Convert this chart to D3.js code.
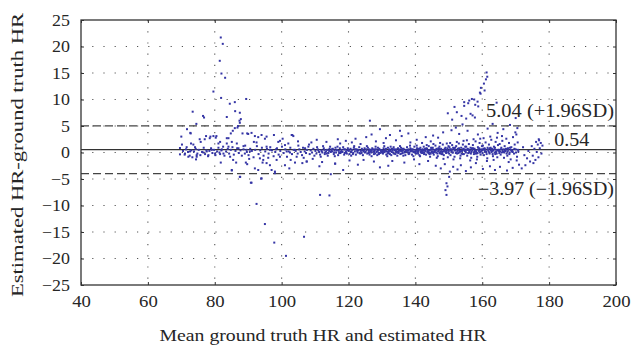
<!DOCTYPE html>
<html>
<head>
<meta charset="utf-8" />
<title>Bland-Altman HR</title>
<script src="https://cdn.jsdelivr.net/npm/d3@7"></script>
<style>
  html, body { margin: 0; background: #fff; }
  text { font-family: "Liberation Serif", serif; fill: #262626; }
  .grid line { stroke: #555; stroke-width: 1.1px; stroke-dasharray: 1.2,10; }
  .axis text { font-size: 16px; }
  .axis line { stroke: #333; stroke-width: 1px; }
  .axis path { display: none; }
</style>
</head>
<body>
<svg id="chart" width="632" height="346"></svg>
<script>
var xTicks = [40, 60, 80, 100, 120, 140, 160, 180, 200];
var yTicks = [25, 20, 15, 10, 5, 0, -5, -10, -15, -20, -25];
var meanDiff = 0.54, upperLoA = 5.04, lowerLoA = -3.97;
var upperLabel = "5.04 (+1.96SD)", meanLabel = "0.54", lowerLabel = "\u22123.97 (\u22121.96SD)";

// [mean HR, estimated - ground truth]
var upOutliers = [[81.8,21.7],[82.4,20.5],[81.5,17.3],[82.0,14.9],[83.1,14.1],[79.6,11.5],[81.9,10.3],[86.0,9.5],
  [89.4,10.1],[84.5,9.2],[73.4,7.7],[86.1,7.8],[87.5,7.5],[76.5,6.9],[76.8,6.6],[83.6,6.7],[87.8,6.3],[126.4,6.0]];

var downOutliers = [[111.5,-8.0],[114.3,-8.1],[92.5,-9.7],[95.0,-13.5],[106.7,-15.9],[97.8,-17.0],[101.3,-19.5]];

var leftBand = [[70.5,0.3],[71.0,-0.4],[71.4,0.6],[72.0,0.1],[72.5,-0.6],[73.0,0.4],[73.3,-0.9],[73.8,0.2],[74.3,0.7],
  [74.8,-0.2],[75.2,0.5],[75.7,-0.5],[76.2,0.1],[76.7,0.9],[77.1,-0.3],[77.5,0.4],[78.0,-0.7],[78.4,0.3],[78.9,0.8],
  [79.3,-0.1],[79.8,0.5],[80.2,-0.5],[80.7,0.2],[81.1,0.9],[81.6,-0.3],[82.0,0.4],[82.5,1.1],[82.9,-0.6],[83.4,0.2],
  [83.9,0.7],[84.3,-0.2],[84.8,0.5],[85.3,1.0],[85.7,-0.4],[86.2,0.3],[86.7,0.8],[87.2,-0.1],[87.7,0.4],[88.1,-0.6],
  [88.6,0.6],[89.1,1.3],[89.6,0.1],[90.1,-0.5],[90.6,0.7],[91.1,0.3],[91.6,-0.9],[92.1,0.5],[92.6,1.2],[93.1,-0.3],
  [93.6,0.4],[94.1,0.9],[94.6,-0.6],[95.1,0.2],[95.6,0.7],[96.1,-0.2],[96.6,1.0],[97.1,0.4],[97.6,-0.7],[98.1,0.1],
  [98.6,0.8],[99.1,-0.4],[99.6,0.3],[100.1,1.1],[100.6,-0.1],[101.1,0.6],[101.6,-0.8],[102.1,0.2],[102.6,0.9],
  [103.1,-0.3],[103.6,0.5]];

var leftSpread = [[70.0,3.0],[70.2,1.5],[69.6,0.85],[69.6,-0.35],[71.7,4.4],[72.7,3.7],[74.5,5.4],[71.6,1.0],[72.9,1.7],
  [73.6,1.5],[74.1,1.0],[72.6,0.2],[71.1,-0.2],[74.6,-0.8],[74.4,-1.3],[75.5,2.5],[75.8,2.0],[77.0,2.5],[78.5,2.7],
  [78.7,3.0],[79.6,3.1],[80.5,3.1],[81.6,2.0],[81.1,1.7],[76.6,0.0],[77.6,0.2],[78.1,-0.5],[79.1,0.5],[80.1,-0.2],
  [81.4,0.0],[82.1,0.6],[82.6,-0.2],[83.6,1.7],[84.1,2.7],[84.8,3.6],[85.4,4.1],[86.0,4.6],[87.0,5.0],[87.5,5.6],
  [88.3,3.6],[90.0,3.5],[91.0,3.7],[91.7,2.0],[92.0,3.1],[93.0,2.9],[94.0,3.3],[95.0,2.6],[95.5,3.0],[84.1,1.1],
  [85.1,2.0],[86.6,1.7],[87.1,0.8],[88.6,1.2],[89.5,0.5],[90.5,0.2],[89.0,-0.2],[84.6,-0.8],[85.5,-1.4],[81.8,-1.9],
  [85.1,-3.3],[87.6,-4.6],[89.3,-1.9],[89.7,-2.2],[92.0,-3.0],[93.0,-3.3],[91.0,-5.7],[94.0,-4.9],[93.5,-1.1],
  [94.5,-1.4],[95.5,-2.0],[96.5,-2.4],[97.0,-3.3],[98.0,-3.6],[98.5,-1.4],[99.5,-0.8],[101.0,1.4],[102.0,1.7],
  [103.0,3.3],[103.5,3.1],[102.3,-3.0],[99.0,2.0],[99.5,2.2],[95.5,1.1],[96.5,0.5],[98.3,0.6],[101.5,0.2],[102.5,0.0],
  [104.0,0.5],[104.5,-0.8],[72.8,3.6],[77.4,3.1],[80.3,2.8],[83.6,2.7],[86.8,4.7],[87.4,6.0],[89.7,3.6],[92.5,1.9],
  [72.1,-0.8],[74.6,-0.5],[86.4,-1.9],[94.3,-1.9],[98.0,-3.9],[101.0,-2.4],[102.7,-1.4],[104.0,-1.9],[93.9,-4.9],
  [90.8,-5.7],[85.1,-3.4],[87.5,-4.6],[97.7,3.3],[100.3,2.6],[90.3,-1.2],[96.0,-1.0]];

var midSpread = [[104.9,2.1],[106.2,-2.0],[107.5,-1.7],[108.9,1.9],[110.5,2.4],[111.3,-2.6],[112.1,-1.8],[113.4,2.0],
  [114.7,-4.1],[116.0,-2.1],[116.8,2.5],[117.5,1.7],[118.4,-3.3],[119.2,2.2],[120.3,-1.5],[121.0,1.9],[122.1,2.6],
  [122.8,-2.3],[123.6,1.6],[124.5,-1.4],[125.3,2.9],[126.9,3.4],[127.6,-1.7],[128.2,2.1],[129.4,4.4],[129.4,-2.8],
  [130.5,1.8],[131.2,2.7],[131.9,-2.5],[132.4,3.3],[133.1,-1.6],[134.2,2.3],[135.4,4.1],[135.9,3.1],[136.7,-1.9],
  [137.9,3.6],[138.5,1.9],[139.6,-1.3],[140.4,2.4],[141.2,-2.2],[142.0,1.8],[143.1,2.9],[143.8,-1.6],[144.6,2.1],
  [116.0,-2.1],[107.5,-1.7],[103.2,3.3]];

var coreBand = [
  [104.2,0.3],[104.8,-0.2],[105.3,0.6],[105.7,0.1],[106.1,-0.5],[106.4,0.9],[106.9,0.2],[107.3,-0.1],[107.6,0.5],
  [108.0,1.1],[108.4,-0.3],[108.7,0.4],[109.1,0.0],[109.5,0.7],[109.8,-0.6],[105.0,1.3],[106.6,-1.0],[108.2,1.5],
  [109.3,-1.2],[107.0,0.8],
  [110.1,0.3],[110.4,-0.2],[110.8,0.6],[111.2,0.1],[111.5,-0.4],[111.9,0.4],[112.2,0.0],[112.6,0.8],[112.9,-0.3],
  [113.3,0.2],[113.6,0.5],[114.0,-0.1],[114.3,0.7],[114.7,0.1],[110.6,1.0],[111.7,-0.8],[112.4,1.2],[113.8,-0.6],
  [114.5,1.1],[111.0,0.4],[113.0,0.0],[114.9,0.3],
  [115.1,0.2],[115.3,0.7],[115.6,-0.3],[115.8,0.4],[116.1,0.9],[116.3,0.0],[116.6,0.5],[116.9,-0.5],[117.1,0.3],
  [117.4,0.8],[117.6,-0.1],[117.9,0.5],[118.2,0.1],[118.4,1.0],[118.7,-0.4],[119.0,0.6],[119.2,0.2],[119.5,-0.2],
  [119.8,0.8],[115.9,-0.7],[116.7,1.1],[117.7,0.1],[118.9,-0.1],[119.6,0.4],
  [120.1,0.3],[120.3,-0.3],[120.6,0.7],[120.9,0.1],[121.1,0.5],[121.4,-0.1],[121.6,0.9],[121.9,0.2],[122.2,-0.4],
  [122.4,0.6],[122.7,0.0],[123.0,0.4],[123.2,1.0],[123.5,-0.2],[123.7,0.3],[124.0,0.7],[124.3,-0.5],[124.5,0.2],
  [124.8,0.8],[120.8,-0.6],[121.7,1.2],[122.9,0.5],[123.9,-0.1],[124.6,0.4],
  [125.1,0.1],[125.3,0.6],[125.6,-0.2],[125.8,0.9],[126.1,0.3],[126.3,-0.4],[126.6,0.5],[126.8,0.0],[127.1,0.8],
  [127.4,0.2],[127.6,-0.3],[127.9,0.6],[128.1,1.1],[128.4,0.1],[128.6,-0.5],[128.9,0.4],[129.2,0.7],[129.4,-0.1],
  [129.7,0.3],[125.5,1.2],[126.9,-0.7],[127.8,0.4],[128.8,0.9],[129.9,0.0],[126.2,0.6],[129.1,-0.3],
  [130.1,0.4],[130.3,-0.2],[130.5,0.8],[130.8,0.1],[131.0,0.5],[131.3,-0.4],[131.5,0.2],[131.8,0.9],[132.0,-0.1],
  [132.3,0.6],[132.5,0.3],[132.8,-0.5],[133.0,0.7],[133.3,0.0],[133.5,1.0],[133.8,0.4],[134.0,-0.3],[134.3,0.6],
  [134.5,0.2],[134.8,0.8],[130.7,1.2],[131.6,-0.7],[132.6,1.1],[133.6,-0.2],[134.6,-0.6],[130.2,0.0],[132.1,0.3],
  [134.1,0.5],
  [135.0,0.1],[135.2,0.6],[135.5,-0.3],[135.7,0.9],[136.0,0.3],[136.2,-0.1],[136.5,0.7],[136.7,0.2],[137.0,-0.5],
  [137.2,0.5],[137.5,1.0],[137.7,0.0],[138.0,0.4],[138.2,-0.2],[138.5,0.8],[138.7,0.3],[139.0,-0.4],[139.2,0.6],
  [139.5,0.1],[139.7,1.1],[135.4,1.2],[136.4,-0.6],[137.4,0.3],[138.4,1.3],[139.4,-0.7],[135.9,0.4],[137.9,0.6],
  [139.9,0.2],
  [140.0,0.5],[140.2,-0.2],[140.5,0.8],[140.7,0.1],[141.0,0.4],[141.2,-0.5],[141.5,0.9],[141.7,0.2],[142.0,-0.1],
  [142.2,0.6],[142.5,1.1],[142.7,0.0],[143.0,0.3],[143.2,-0.4],[143.5,0.7],[143.7,0.2],[144.0,1.2],[144.2,-0.3],
  [144.5,0.5],[144.7,0.9],[140.4,1.3],[141.4,-0.7],[142.4,0.4],[143.4,1.4],[144.4,-0.8],[140.9,0.2],[142.9,0.7],
  [144.9,0.1],[141.9,0.5],[143.9,-0.1],
  [145.0,0.2],[145.2,0.9],[145.5,-0.4],[145.7,0.5],[146.0,1.3],[146.2,0.0],[146.5,0.6],[146.7,-0.7],[147.0,0.3],
  [147.2,1.1],[147.5,-0.2],[147.7,0.7],[148.0,0.1],[148.2,1.5],[148.5,-0.5],[148.7,0.4],[149.0,0.9],[149.2,-0.1],
  [149.5,0.5],[149.7,-0.9],[145.4,1.6],[146.4,-1.0],[147.4,1.8],[148.4,-1.2],[149.4,1.7],[145.9,0.4],[146.9,0.8],
  [147.9,-0.3],[148.9,0.2],[149.9,1.2],
  [150.0,0.3],[150.2,1.0],[150.5,-0.5],[150.7,0.6],[151.0,1.4],[151.2,0.0],[151.5,0.8],[151.7,-0.8],[152.0,0.4],
  [152.2,1.2],[152.5,-0.2],[152.7,0.7],[153.0,1.7],[153.2,0.1],[153.5,-0.6],[153.7,0.9],[154.0,0.3],[154.2,1.5],
  [154.5,-0.3],[154.7,0.6],[150.4,1.8],[151.4,-1.3],[152.4,2.0],[153.4,-1.1],[154.4,2.2],[150.9,0.5],[151.9,0.9],
  [152.9,-0.1],[153.9,0.4],[154.9,1.1],
  [155.0,0.2],[155.2,1.1],[155.5,-0.6],[155.7,0.5],[156.0,1.6],[156.2,0.0],[156.5,0.9],[156.7,-1.0],[157.0,0.4],
  [157.2,1.4],[157.5,-0.3],[157.7,0.7],[158.0,2.1],[158.2,0.1],[158.5,-0.8],[158.7,1.0],[159.0,0.3],[159.2,1.8],
  [159.5,-0.4],[159.7,0.6],[155.4,2.3],[156.4,-1.5],[157.4,2.5],[158.4,-1.3],[159.4,2.6],[155.9,0.6],[156.9,0.8],
  [157.9,-0.2],[158.9,0.5],[159.9,1.2],
  [160.0,0.4],[160.2,1.3],[160.5,-0.5],[160.7,0.8],[161.0,1.9],[161.2,0.1],[161.5,-1.1],[161.7,0.6],[162.0,1.5],
  [162.2,-0.2],[162.5,0.9],[162.7,2.4],[163.0,0.3],[163.2,-0.7],[163.5,1.1],[163.7,0.0],[164.0,2.0],[164.2,0.5],
  [164.5,-0.9],[164.7,1.4],[160.4,2.7],[161.4,-1.6],[162.4,3.0],[163.4,-1.4],[164.4,2.8],[160.9,0.6],[161.9,0.2],
  [162.9,0.7],[163.9,-0.3],[164.9,0.3],
  [165.0,0.5],[165.2,1.6],[165.5,-0.4],[165.7,0.9],[166.0,2.2],[166.2,0.1],[166.5,-1.0],[166.7,1.2],[167.0,0.3],
  [167.2,2.6],[167.5,-0.6],[167.7,0.8],[168.0,1.8],[168.2,0.0],[168.5,-1.3],[168.7,1.0],[169.0,0.4],[169.2,2.9],
  [169.5,-0.2],[169.7,1.5],[170.0,0.6],[170.2,3.4],[170.4,-0.8],[170.6,1.9],[170.8,0.2],[165.9,3.1],[167.9,-1.8],
  [169.9,3.8],[170.3,-1.5],[166.9,0.6]];

// extra density along the tight centre of the band
var coreDense = [[112.0,0.2],[112.8,0.5],[113.5,-0.2],[114.2,0.3],[115.0,0.6],[115.7,0.0],[116.4,0.4],[117.2,-0.1],
  [117.9,0.2],[118.6,0.6],[119.3,0.0],[120.0,0.5],[120.7,0.2],[121.3,-0.3],[122.0,0.6],[122.6,0.3],[123.3,-0.1],
  [124.1,0.4],[124.9,0.0],[125.4,0.4],[126.0,-0.1],[126.7,0.2],[127.3,0.6],[128.0,-0.2],[128.7,0.3],[129.5,0.5],
  [130.0,0.1],[130.6,0.3],[131.2,0.7],[131.9,0.1],[132.4,-0.3],[133.1,0.4],[133.7,0.6],[134.4,0.0],[135.1,0.4],
  [135.8,-0.2],[136.3,0.5],[136.9,0.1],[137.6,0.4],[138.1,0.0],[138.8,0.6],[139.3,0.2],[140.1,-0.1],[140.6,0.4],
  [141.1,0.7],[141.6,0.0],[142.1,0.3],[142.6,-0.3],[143.1,0.6],[143.6,0.1],[144.1,0.4],[144.6,-0.2],[145.1,0.6],
  [145.6,0.1],[146.1,0.4],[146.6,-0.2],[147.1,0.7],[147.6,0.2],[148.1,-0.3],[148.6,0.5],[149.1,0.1],[149.6,0.8],
  [150.1,-0.2],[150.6,0.4],[151.1,0.0],[151.6,0.6],[152.1,-0.1],[152.6,0.3],[153.1,0.8],[153.6,0.2],[154.1,-0.3],
  [154.6,0.5],[155.1,0.0],[155.6,0.7],[156.1,0.3],[156.6,-0.2],[157.1,0.6],[157.6,0.1],[158.1,0.4],[158.6,-0.1],
  [159.1,0.8],[159.6,0.2],[160.1,-0.1],[160.6,0.5],[161.1,0.2],[161.6,0.9],[162.1,0.0],[162.6,0.4],[163.1,-0.3],
  [163.6,0.6],[164.1,0.1],[164.6,0.4],[165.1,-0.1],[165.6,0.6],[166.1,0.3],[166.6,0.0],[167.1,0.7],[167.6,0.2],
  [168.1,-0.3],[168.6,0.5],[169.1,0.1],[169.6,0.7],[170.1,0.0],[170.7,0.5]];

var coreDense2 = [[126.2,0.0],[126.9,0.5],[127.7,0.1],[128.3,0.6],[129.0,-0.1],[129.8,0.4],[130.4,0.0],[131.1,0.3],
  [131.7,-0.2],[132.2,0.5],[132.9,0.1],[133.4,0.6],[134.2,0.2],[134.9,-0.1],[135.6,0.3],[136.1,0.7],[136.8,0.0],
  [137.3,0.4],[138.0,-0.3],[138.6,0.2],[139.1,0.5],[139.8,0.0],[140.3,0.3],[140.8,-0.2],[141.3,0.6],[141.8,0.3],
  [142.3,0.0],[142.8,0.4],[143.3,0.8],[143.8,0.3],[144.3,0.0],[144.8,0.6],[145.3,-0.1],[145.8,0.3],[146.3,0.7],
  [146.8,0.2],[147.3,-0.1],[147.8,0.5],[148.3,0.2],[148.8,0.7],[149.3,0.3],[149.8,0.0],[150.3,0.6],[150.8,0.2],
  [151.3,0.9],[151.8,0.4],[152.3,0.0],[152.8,0.5],[153.3,0.3],[153.8,-0.2],[154.3,0.7],[154.8,0.3],[155.3,0.5],
  [155.8,-0.1],[156.3,0.4],[156.8,0.1],[157.3,0.8],[157.8,0.3],[158.3,-0.2],[158.8,0.6],[159.3,0.0],[159.8,0.4],
  [160.3,0.7],[160.8,0.2],[161.3,-0.3],[161.8,0.5],[162.3,0.8],[162.8,0.1],[163.3,0.4],[163.8,0.9],[164.3,-0.2],
  [164.8,0.5],[165.3,0.2],[165.8,0.0],[166.3,0.6],[166.8,0.3],[167.3,-0.2],[167.8,0.5],[168.3,0.9],[168.8,0.2]];

var rightSpread = [[145.3,3.2],[146.1,-2.5],[146.8,2.8],[147.6,-3.0],[148.3,3.8],[148.8,-2.2],[149.3,-5.8],[149.0,-7.1],
  [150.1,-4.6],[149.3,-8.0],[149.6,-6.4],[150.3,-3.6],[150.8,4.2],[151.3,-2.7],[151.7,8.6],[152.1,4.7],[152.6,-3.2],
  [153.1,3.5],[153.6,-2.4],[154.1,5.3],[154.6,9.5],[155.1,-3.5],[155.6,4.1],[156.1,9.8],[156.6,-2.8],[157.1,7.0],
  [157.6,10.0],[158.1,-2.0],[158.6,9.6],[158.7,3.4],[159.3,11.3],[159.6,12.2],[159.5,11.1],[160.5,13.0],[160.7,11.7],
  [161.1,13.8],[161.5,14.3],[161.3,15.1],[160.2,-3.1],[161.6,4.5],[162.3,-2.6],[163.1,5.4],[163.8,-3.3],[164.3,9.4],
  [164.6,3.7],[165.3,-2.7],[166.3,4.4],[167.4,-3.4],[168.3,5.2],[169.1,-2.9],[170.0,6.5],[170.5,4.6],[171.0,-2.3],
  [149.7,7.4],[151.0,6.2],[152.4,7.6],[153.8,6.9],[155.2,6.4],[156.5,7.3],[157.8,6.6],
  [154.6,8.8],[155.8,9.3],[156.9,10.1],[157.9,9.0],[158.8,8.7]];

var tailCluster = [[172.6,-0.5],[172.9,-2.4],[173.4,-1.1],[173.8,0.3],[174.3,-1.7],[174.8,1.2],[175.1,-0.6],[175.3,-2.0],
  [175.6,0.7],[175.9,-1.4],[176.1,2.0],[176.3,0.1],[176.6,1.5],[176.8,-0.9],[177.0,2.3],[177.2,0.8],[177.5,1.8],
  [177.7,-0.2],[178.0,1.3],[176.9,2.5],[171.8,-3.0],[172.2,1.0]];

var margin = {top: 20, right: 16, bottom: 61, left: 81};
var width = 632 - margin.left - margin.right,
    height = 346 - margin.top - margin.bottom;

var svg = d3.select("#chart");
var g = svg.append("g").attr("transform", "translate(" + margin.left + "," + margin.top + ")");

var x = d3.scaleLinear().domain([40, 200]).range([0, width]);
var y = d3.scaleLinear().domain([-25, 25]).range([height, 0]);

// widen a serif label the way the original typeface sits
function stretch(sel, k) {
  sel.attr("lengthAdjust", "spacingAndGlyphs")
    .attr("textLength", function() { return this.getComputedTextLength() * k; });
}

// dotted grid
g.append("g").attr("class", "grid")
  .selectAll("line").data(xTicks.slice(1, -1)).join("line")
    .attr("x1", x).attr("x2", x).attr("y1", 0).attr("y2", height);
g.append("g").attr("class", "grid")
  .selectAll("line").data(yTicks.slice(1, -1)).join("line")
    .attr("x1", 0).attr("x2", width).attr("y1", y).attr("y2", y);

// mean and limits of agreement
g.append("line").attr("x1", 0).attr("x2", width)
  .attr("y1", y(meanDiff)).attr("y2", y(meanDiff))
  .attr("stroke", "#333").attr("stroke-width", 1.2);
[upperLoA, lowerLoA].forEach(function(v) {
  g.append("line").attr("x1", 0).attr("x2", width)
    .attr("y1", y(v)).attr("y2", y(v))
    .attr("stroke", "#444").attr("stroke-width", 1.3)
    .attr("stroke-dasharray", "8,4");
});

var points = [].concat(leftBand, leftSpread, midSpread, coreBand, coreDense, coreDense2,
  rightSpread, tailCluster, upOutliers, downOutliers);
g.append("g").selectAll("rect").data(points).join("rect")
  .attr("x", function(d) { return x(d[0]) - 1; })
  .attr("y", function(d) { return y(d[1]) - 1; })
  .attr("width", 2).attr("height", 2)
  .attr("fill", "#3535a5");

// axes
var xAxis = g.append("g").attr("class", "axis")
  .attr("transform", "translate(0," + height + ")")
  .call(d3.axisBottom(x).tickValues(xTicks).tickSizeInner(-3).tickSizeOuter(0).tickPadding(11));
var yAxis = g.append("g").attr("class", "axis")
  .call(d3.axisLeft(y).tickValues(yTicks).tickSizeInner(-3).tickSizeOuter(0).tickPadding(11));
g.append("g").attr("class", "axis")
  .call(d3.axisTop(x).tickValues(xTicks).tickSizeInner(-3).tickSizeOuter(0).tickFormat(""));
g.append("g").attr("class", "axis")
  .attr("transform", "translate(" + width + ",0)")
  .call(d3.axisRight(y).tickValues(yTicks).tickSizeInner(-3).tickSizeOuter(0).tickFormat(""));
stretch(xAxis.selectAll("text"), 1.17);
stretch(yAxis.selectAll("text"), 1.12);

g.append("rect").attr("width", width).attr("height", height)
  .attr("fill", "none").attr("stroke", "#333").attr("stroke-width", 1.3);

// annotations
g.append("text").attr("x", width - 2).attr("y", y(upperLoA) - 9)
  .attr("text-anchor", "end").style("font-size", "18px")
  .attr("textLength", 128).attr("lengthAdjust", "spacingAndGlyphs").text(upperLabel);
g.append("text").attr("x", x(181.5)).attr("y", y(meanDiff) - 4)
  .style("font-size", "18px")
  .attr("textLength", 35).attr("lengthAdjust", "spacingAndGlyphs").text(meanLabel);
g.append("text").attr("x", width - 2).attr("y", y(lowerLoA) + 21)
  .attr("text-anchor", "end").style("font-size", "18px")
  .attr("textLength", 136).attr("lengthAdjust", "spacingAndGlyphs").text(lowerLabel);

// axis titles
svg.append("text").attr("x", 323).attr("y", 341)
  .attr("text-anchor", "middle").style("font-size", "17px")
  .attr("textLength", 327).attr("lengthAdjust", "spacingAndGlyphs")
  .text("Mean ground truth HR and estimated HR");
svg.append("text").attr("transform", "translate(23,155) rotate(-90)")
  .attr("text-anchor", "middle").style("font-size", "17px")
  .attr("textLength", 284).attr("lengthAdjust", "spacingAndGlyphs")
  .text("Estimated HR-ground truth HR");
</script>
</body>
</html>
